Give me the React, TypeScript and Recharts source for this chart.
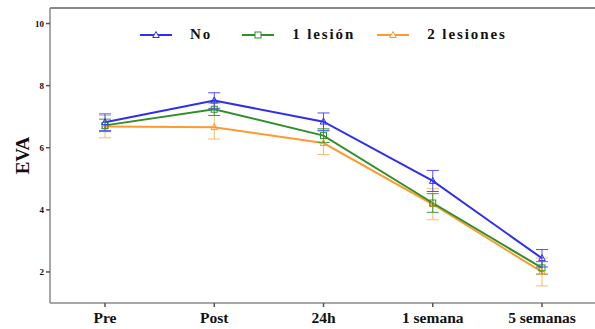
import React from "react";
import { LineChart, Line, XAxis, YAxis, ErrorBar, ReferenceArea } from "recharts";

const categories = ["Pre", "Post", "24h", "1 semana", "5 semanas"];
const noValues = [6.82, 7.52, 6.84, 4.93, 2.44];
const noErrors = [0.27, 0.25, 0.28, 0.34, 0.28];
const oneValues = [6.72, 7.24, 6.39, 4.22, 2.13];
const oneErrors = [0.2, 0.2, 0.22, 0.3, 0.2];
const twoValues = [6.68, 6.66, 6.15, 4.18, 2.0];
const twoErrors = [0.36, 0.38, 0.37, 0.5, 0.45];
const yTicks = [2, 4, 6, 8, 10];

const BLUE = "#2f2ff0";
const GREEN = "#2f8f2a";
const ORANGE = "#ff9a30";
const SERIF = "'Liberation Serif', 'Times New Roman', serif";
const X_PAD = 55;

const data = categories.map((name, i) => ({
  name,
  no: noValues[i],
  noErr: noErrors[i],
  one: oneValues[i],
  oneErr: oneErrors[i],
  two: twoValues[i],
  twoErr: twoErrors[i],
}));

function triangle(color: string, size: number) {
  return (props: any) => {
    const { cx, cy, index } = props;
    const h = size;
    const pts = `${cx},${cy - h * 0.6} ${cx - h * 0.55},${cy + h * 0.4} ${cx + h * 0.55},${cy + h * 0.4}`;
    return <polygon key={`t-${color}-${index}`} points={pts} fill="none" stroke={color} strokeWidth={1} />;
  };
}

function square(color: string, size: number) {
  return (props: any) => {
    const { cx, cy, index } = props;
    return (
      <rect
        key={`s-${color}-${index}`}
        x={cx - size / 2}
        y={cy - size / 2}
        width={size}
        height={size}
        fill="none"
        stroke={color}
        strokeWidth={1}
      />
    );
  };
}

// only the top edge of the frame is drawn (left/bottom are the axes)
function TopEdge(props: any) {
  const { x, y, width } = props;
  return <line x1={x - X_PAD} y1={y} x2={x + width + X_PAD} y2={y} stroke="#8a8a8a" strokeWidth={2} />;
}

const legendItems = [
  { label: "No", color: BLUE, shape: "tri" },
  { label: "1 lesión", color: GREEN, shape: "sq" },
  { label: "2 lesiones", color: ORANGE, shape: "tri" },
];

// legend drawn as an overlay so it does not shrink the plot area
function ChartLegend() {
  return (
    <div style={{ position: "absolute", top: 26, left: 140, display: "flex", alignItems: "center" }}>
      {legendItems.map((it, i) => (
        <div key={it.label} style={{ display: "flex", alignItems: "center", marginRight: i === 0 ? 30 : 22 }}>
          <svg width={32} height={12} style={{ marginRight: 18 }}>
            <line x1={0} y1={6} x2={32} y2={6} stroke={it.color} strokeWidth={2} />
            {it.shape === "tri" ? (
              <polygon points="16,2.5 12.7,8.5 19.3,8.5" fill="white" stroke={it.color} strokeWidth={1} />
            ) : (
              <rect x={13} y={3} width={6} height={6} fill="white" stroke={it.color} strokeWidth={1} />
            )}
          </svg>
          <span
            style={{
              fontFamily: SERIF,
              fontWeight: "bold",
              fontSize: 15,
              letterSpacing: 1.9,
              color: "#111",
            }}
          >
            {it.label}
          </span>
        </div>
      ))}
    </div>
  );
}

export default function App() {
  return (
    <div style={{ position: "absolute", left: 0, top: 0, width: 595, height: 329, overflow: "hidden", background: "#fff" }}>
      <LineChart width={600} height={329} data={data} margin={{ top: 8, right: 3, bottom: 0, left: 0 }}>
        <ReferenceArea y1={10.45} y2={10.5} ifOverflow="visible" shape={<TopEdge />} />
        <XAxis
          dataKey="name"
          scale="point"
          padding={{ left: X_PAD, right: X_PAD }}
          height={26}
          stroke="#8a8a8a"
          strokeWidth={1.5}
          tickSize={4}
          tickMargin={5}
          tickLine={{ stroke: "#555" }}
          tick={{ fontFamily: SERIF, fontWeight: "bold", fontSize: 15.5, fill: "#111" }}
          interval={0}
        />
        <YAxis
          width={50}
          domain={[1, 10.5]}
          ticks={yTicks}
          allowDataOverflow
          stroke="#8a8a8a"
          strokeWidth={1.5}
          tickSize={4}
          tickLine={{ stroke: "#555" }}
          tick={{ fontFamily: SERIF, fontWeight: "bold", fontSize: 9, fill: "#111" }}
          label={{
            value: "EVA",
            angle: -90,
            position: "insideLeft",
            offset: 22,
            style: { fontFamily: SERIF, fontWeight: "bold", fontSize: 19, fill: "#111", textAnchor: "middle" },
          }}
        />
        <Line
          type="linear"
          dataKey="two"
          stroke={ORANGE}
          strokeWidth={2}
          dot={triangle(ORANGE, 6)}
          activeDot={false}
          isAnimationActive={false}
        >
          <ErrorBar dataKey="twoErr" width={6} stroke="#ffb870" strokeWidth={1} direction="y" />
        </Line>
        <Line
          type="linear"
          dataKey="one"
          stroke={GREEN}
          strokeWidth={2}
          dot={square(GREEN, 6)}
          activeDot={false}
          isAnimationActive={false}
        >
          <ErrorBar dataKey="oneErr" width={6} stroke="#3a9a3a" strokeWidth={1} direction="y" />
        </Line>
        <Line
          type="linear"
          dataKey="no"
          stroke={BLUE}
          strokeWidth={2}
          dot={triangle(BLUE, 6)}
          activeDot={false}
          isAnimationActive={false}
        >
          <ErrorBar dataKey="noErr" width={6} stroke="#5050f0" strokeWidth={1} direction="y" />
        </Line>
      </LineChart>
      <ChartLegend />
    </div>
  );
}
